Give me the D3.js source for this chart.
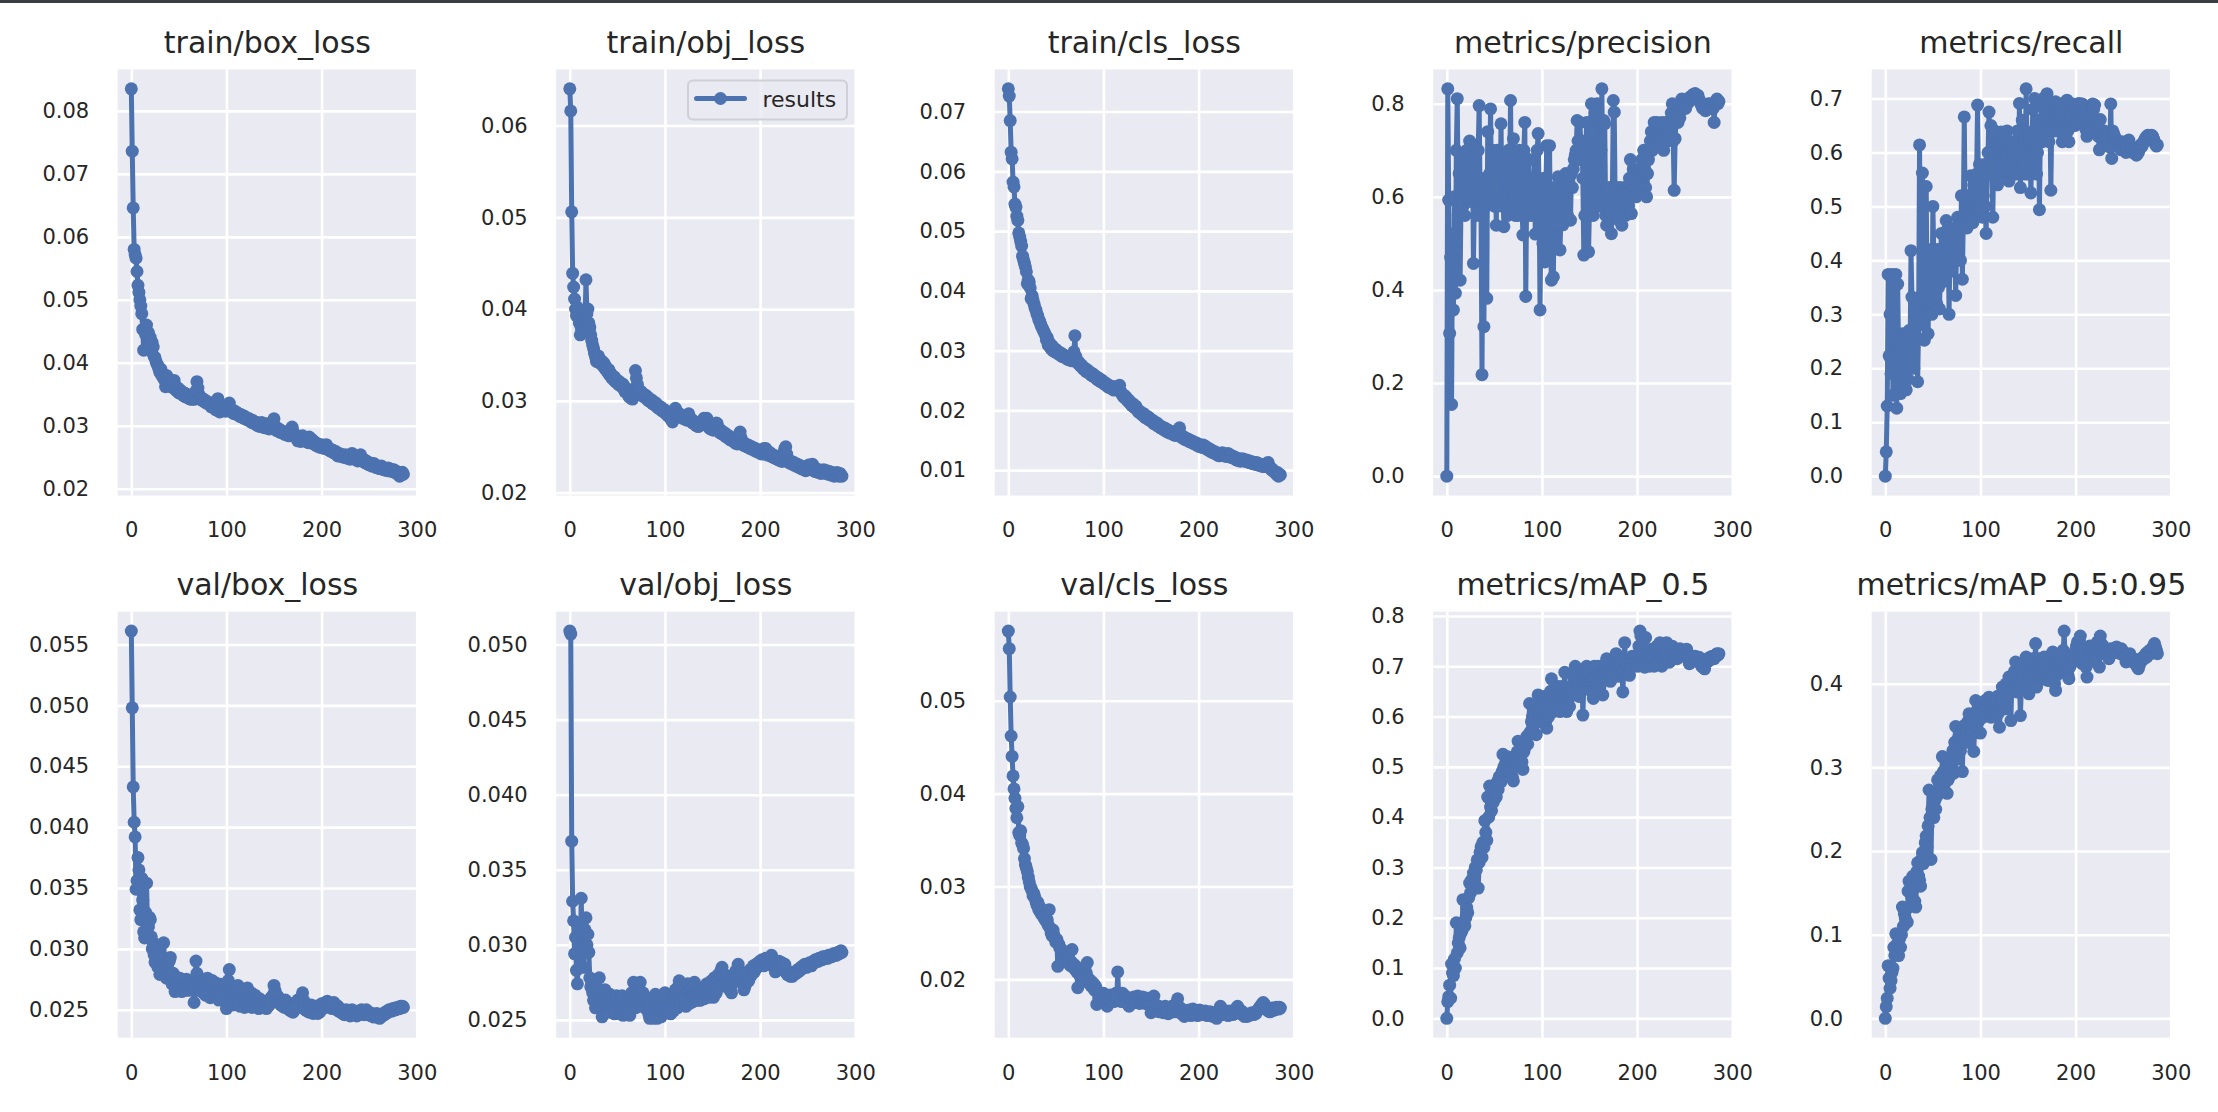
<!DOCTYPE html>
<html>
<head>
<meta charset="utf-8">
<script src="https://cdn.jsdelivr.net/npm/d3@7/dist/d3.min.js"></script>
<style>
  html, body { margin: 0; padding: 0; background: #fff; }
  svg { display: block; }
</style>
</head>
<body>
<script>
// ---------------- DATA ----------------
const titles = ["train/box_loss", "train/obj_loss", "train/cls_loss", "metrics/precision", "metrics/recall",
                "val/box_loss", "val/obj_loss", "val/cls_loss", "metrics/mAP_0.5", "metrics/mAP_0.5:0.95"];

const xTickValues = [0, 100, 200, 300];

const ticksTrainBox = [0.02, 0.03, 0.04, 0.05, 0.06, 0.07, 0.08];
const ticksTrainObj = [0.02, 0.03, 0.04, 0.05, 0.06];
const ticksTrainCls = [0.01, 0.02, 0.03, 0.04, 0.05, 0.06, 0.07];
const ticksPrecision = [0.0, 0.2, 0.4, 0.6, 0.8];
const ticksRecall = [0.0, 0.1, 0.2, 0.3, 0.4, 0.5, 0.6, 0.7];
const ticksValBox = [0.025, 0.030, 0.035, 0.040, 0.045, 0.050, 0.055];
const ticksValObj = [0.025, 0.030, 0.035, 0.040, 0.045, 0.050];
const ticksValCls = [0.02, 0.03, 0.04, 0.05];
const ticksMap50 = [0.0, 0.1, 0.2, 0.3, 0.4, 0.5, 0.6, 0.7, 0.8];
const ticksMap5095 = [0.0, 0.1, 0.2, 0.3, 0.4];

const trainBoxLoss = [
.0835,.0736,.0646,.0580,.0572,.0566,.0545,.0523,.0512,.0500,
.0490,.0478,.0453,.0420,.0450,.0445,.0460,.0432,.0448,.0425,
.0440,.0418,.0432,.0425,.0410,.0408,.0402,.0398,.0395,.0390,
.0385,.0390,.0380,.0383,.0375,.0378,.0362,.0380,.0370,.0375,
.0365,.0370,.0362,.0368,.0360,.0372,.0358,.0362,.0355,.0360,
.0352,.0357,.0355,.0350,.0353,.0348,.0352,.0346,.0350,.0345,
.0348,.0343,.0346,.0342,.0344,.0348,.0342,.0345,.0355,.0370,
.0360,.0350,.0345,.0342,.0344,.0340,.0342,.0338,.0340,.0336,
.0338,.0335,.0337,.0333,.0330,.0334,.0331,.0328,.0332,.0325,
.0335,.0343,.0330,.0322,.0326,.0330,.0327,.0325,.0329,.0323,
.0326,.0324,.0330,.0336,.0328,.0325,.0322,.0320,.0324,.0319,
.0322,.0318,.0320,.0317,.0315,.0318,.0314,.0316,.0312,.0315,
.0313,.0310,.0312,.0309,.0311,.0307,.0309,.0305,.0308,.0304,
.0306,.0302,.0305,.0300,.0303,.0299,.0302,.0305,.0298,.0301,
.0297,.0300,.0303,.0296,.0299,.0295,.0298,.0302,.0306,.0300,
.0311,.0296,.0293,.0297,.0292,.0295,.0290,.0293,.0289,.0291,
.0288,.0290,.0286,.0289,.0285,.0288,.0284,.0290,.0293,.0298,
.0292,.0287,.0283,.0285,.0280,.0276,.0279,.0282,.0275,.0278,
.0284,.0279,.0276,.0280,.0275,.0278,.0273,.0282,.0277,.0274,
.0278,.0272,.0275,.0270,.0273,.0268,.0271,.0269,.0266,.0268,
.0270,.0265,.0268,.0264,.0267,.0270,.0265,.0262,.0264,.0260,
.0262,.0259,.0261,.0257,.0256,.0259,.0255,.0252,.0256,.0253,
.0255,.0251,.0253,.0250,.0252,.0254,.0249,.0251,.0248,.0250,
.0247,.0252,.0256,.0250,.0248,.0251,.0246,.0249,.0244,.0247,
.0250,.0254,.0248,.0245,.0243,.0246,.0241,.0244,.0240,.0242,
.0238,.0241,.0239,.0236,.0238,.0240,.0236,.0234,.0237,.0233,
.0235,.0232,.0234,.0236,.0231,.0233,.0230,.0232,.0229,.0231,
.0233,.0230,.0228,.0231,.0229,.0227,.0230,.0226,.0228,.0225,
.0223,.0226,.0220,.0224,.0222,.0226,.0223];

const trainObjLoss = [
.0640,.0616,.0506,.0439,.0424,.0411,.0400,.0393,.0402,.0395,
.0385,.0372,.0380,.0390,.0384,.0378,.0388,.0432,.0395,.0400,
.0385,.0380,.0372,.0366,.0361,.0357,.0352,.0348,.0343,.0346,
.0349,.0342,.0345,.0340,.0343,.0338,.0341,.0335,.0337,.0333,
.0331,.0334,.0328,.0330,.0325,.0327,.0323,.0326,.0321,.0323,
.0320,.0318,.0321,.0317,.0319,.0315,.0318,.0313,.0310,.0314,
.0311,.0308,.0305,.0309,.0303,.0307,.0302,.0306,.0310,.0333,
.0325,.0318,.0312,.0309,.0311,.0307,.0309,.0305,.0307,.0304,
.0306,.0302,.0304,.0300,.0302,.0299,.0301,.0297,.0299,.0296,
.0298,.0294,.0296,.0292,.0294,.0291,.0293,.0289,.0291,.0288,
.0290,.0286,.0288,.0284,.0286,.0282,.0285,.0279,.0277,.0283,
.0288,.0292,.0286,.0284,.0287,.0283,.0285,.0282,.0284,.0281,
.0283,.0280,.0282,.0279,.0284,.0286,.0281,.0278,.0280,.0276,
.0278,.0275,.0277,.0273,.0276,.0272,.0275,.0277,.0274,.0276,
.0278,.0281,.0277,.0274,.0281,.0276,.0272,.0270,.0273,.0269,
.0271,.0268,.0272,.0274,.0276,.0275,.0270,.0267,.0265,.0268,
.0264,.0266,.0263,.0265,.0261,.0263,.0260,.0262,.0258,.0260,
.0257,.0259,.0256,.0258,.0254,.0256,.0253,.0258,.0262,.0266,
.0260,.0255,.0252,.0254,.0251,.0253,.0250,.0252,.0249,.0251,
.0248,.0250,.0247,.0249,.0246,.0248,.0245,.0247,.0244,.0246,
.0243,.0245,.0242,.0246,.0248,.0244,.0248,.0245,.0241,.0243,
.0244,.0240,.0242,.0239,.0241,.0238,.0240,.0237,.0239,.0236,
.0238,.0235,.0237,.0234,.0240,.0244,.0248,.0250,.0242,.0236,
.0233,.0235,.0232,.0234,.0231,.0233,.0230,.0232,.0229,.0231,
.0228,.0230,.0227,.0229,.0226,.0228,.0225,.0227,.0224,.0226,
.0228,.0230,.0227,.0225,.0229,.0231,.0228,.0225,.0223,.0226,
.0224,.0222,.0225,.0223,.0221,.0224,.0222,.0225,.0223,.0221,
.0224,.0222,.0220,.0223,.0221,.0219,.0222,.0220,.0218,.0221,
.0219,.0222,.0220,.0218,.0221,.0219,.0218];

const trainClsLoss = [
.0738,.0726,.0685,.0632,.0621,.0582,.0574,.0545,.0540,.0525,
.0518,.0497,.0490,.0483,.0475,.0458,.0452,.0446,.0440,.0432,
.0412,.0418,.0415,.0405,.0387,.0392,.0385,.0378,.0372,.0368,
.0362,.0358,.0352,.0349,.0344,.0340,.0337,.0333,.0330,.0326,
.0318,.0322,.0309,.0314,.0306,.0303,.0308,.0300,.0304,.0298,
.0302,.0296,.0299,.0294,.0297,.0292,.0295,.0290,.0293,.0289,
.0291,.0287,.0289,.0285,.0288,.0284,.0286,.0283,.0288,.0298,
.0325,.0290,.0283,.0279,.0281,.0277,.0274,.0276,.0272,.0269,
.0271,.0267,.0265,.0268,.0264,.0262,.0264,.0260,.0258,.0261,
.0257,.0255,.0257,.0253,.0251,.0254,.0250,.0248,.0251,.0247,
.0245,.0247,.0243,.0245,.0241,.0239,.0242,.0238,.0240,.0236,
.0237,.0234,.0236,.0240,.0238,.0235,.0239,.0242,.0232,.0228,
.0226,.0223,.0225,.0220,.0222,.0218,.0215,.0217,.0212,.0210,
.0208,.0211,.0206,.0204,.0207,.0202,.0200,.0197,.0199,.0196,
.0194,.0192,.0195,.0190,.0188,.0191,.0187,.0185,.0188,.0184,
.0182,.0184,.0180,.0178,.0181,.0177,.0175,.0178,.0174,.0172,
.0171,.0173,.0169,.0171,.0167,.0170,.0166,.0164,.0167,.0163,
.0162,.0165,.0161,.0163,.0159,.0162,.0158,.0161,.0164,.0168,
.0171,.0160,.0155,.0157,.0153,.0155,.0151,.0153,.0150,.0152,
.0148,.0150,.0147,.0149,.0145,.0147,.0144,.0146,.0142,.0144,
.0140,.0143,.0139,.0141,.0138,.0142,.0140,.0137,.0139,.0135,
.0134,.0136,.0132,.0134,.0130,.0132,.0129,.0131,.0127,.0129,
.0125,.0128,.0124,.0127,.0125,.0129,.0126,.0124,.0127,.0123,
.0125,.0128,.0124,.0122,.0125,.0121,.0123,.0120,.0122,.0118,
.0117,.0120,.0116,.0118,.0115,.0117,.0119,.0116,.0118,.0115,
.0117,.0114,.0116,.0113,.0115,.0112,.0114,.0111,.0113,.0110,
.0111,.0113,.0109,.0111,.0108,.0110,.0107,.0109,.0106,.0108,
.0106,.0109,.0111,.0113,.0108,.0104,.0102,.0100,.0101,.0098,
.0097,.0095,.0093,.0096,.0090,.0093,.0092];

const precision = [
0.000,0.832,0.593,0.307,0.470,0.154,0.520,0.357,0.600,0.393,
0.700,0.811,0.560,0.650,0.421,0.600,0.680,0.580,0.640,0.560,
0.620,0.700,0.600,0.660,0.720,0.590,0.640,0.710,0.457,0.600,
0.680,0.560,0.640,0.700,0.796,0.600,0.560,0.218,0.620,0.321,
0.640,0.580,0.382,0.740,0.620,0.650,0.789,0.600,0.700,0.640,
0.580,0.660,0.539,0.700,0.620,0.680,0.600,0.757,0.580,0.640,
0.536,0.680,0.600,0.640,0.560,0.700,0.620,0.807,0.580,0.660,
0.725,0.600,0.560,0.680,0.620,0.560,0.700,0.600,0.640,0.580,
0.518,0.700,0.760,0.386,0.620,0.560,0.680,0.600,0.640,0.560,
0.620,0.580,0.680,0.520,0.640,0.700,0.736,0.620,0.357,0.560,
0.614,0.500,0.640,0.460,0.600,0.710,0.520,0.600,0.710,0.480,
0.421,0.560,0.428,0.620,0.500,0.580,0.540,0.643,0.600,0.486,
0.560,0.600,0.540,0.620,0.580,0.650,0.600,0.560,0.640,0.620,
0.550,0.650,0.620,0.660,0.680,0.690,0.700,0.764,0.720,0.680,
0.760,0.700,0.720,0.640,0.475,0.560,0.700,0.760,0.600,0.482,
0.580,0.760,0.800,0.740,0.560,0.620,0.780,0.700,0.800,0.640,
0.580,0.760,0.700,0.832,0.600,0.764,0.757,0.560,0.539,0.600,
0.560,0.620,0.580,0.521,0.600,0.807,0.782,0.580,0.620,0.560,
0.600,0.550,0.620,0.580,0.539,0.600,0.570,0.620,0.560,0.600,
0.620,0.580,0.640,0.680,0.564,0.620,0.660,0.640,0.620,0.600,
0.629,0.650,0.620,0.660,0.640,0.680,0.650,0.700,0.660,0.620,
0.600,0.650,0.680,0.700,0.720,0.740,0.700,0.740,0.760,0.757,
0.740,0.760,0.730,0.750,0.720,0.740,0.760,0.720,0.700,0.740,
0.760,0.740,0.720,0.750,0.730,0.760,0.780,0.800,0.720,0.614,
0.725,0.760,0.780,0.760,0.790,0.770,0.800,0.810,0.790,0.800,
0.800,0.790,0.805,0.800,0.810,0.805,0.815,0.810,0.815,0.820,
0.818,0.822,0.820,0.815,0.818,0.810,0.805,0.800,0.795,0.790,
0.795,0.790,0.785,0.790,0.795,0.800,0.795,0.790,0.800,0.795,
0.790,0.760,0.800,0.805,0.810,0.800,0.805];

const recall = [
0.000,0.045,0.130,0.374,0.223,0.300,0.190,0.374,0.150,0.250,
0.200,0.374,0.126,0.356,0.220,0.170,0.153,0.240,0.264,0.200,
0.230,0.260,0.160,0.250,0.180,0.270,0.220,0.418,0.332,0.240,
0.200,0.300,0.260,0.330,0.175,0.280,0.614,0.330,0.300,0.562,
0.340,0.252,0.400,0.537,0.300,0.264,0.380,0.320,0.420,0.300,
0.500,0.412,0.340,0.380,0.320,0.420,0.350,0.310,0.400,0.450,
0.360,0.420,0.380,0.440,0.474,0.400,0.460,0.300,0.420,0.380,
0.440,0.400,0.460,0.420,0.335,0.440,0.480,0.420,0.460,0.400,
0.520,0.365,0.480,0.666,0.470,0.500,0.460,0.520,0.480,0.500,
0.557,0.500,0.470,0.540,0.500,0.480,0.560,0.688,0.520,0.578,
0.500,0.540,0.480,0.520,0.560,0.500,0.450,0.580,0.600,0.675,
0.600,0.650,0.560,0.480,0.600,0.640,0.580,0.620,0.540,0.600,
0.620,0.580,0.638,0.600,0.560,0.620,0.580,0.600,0.640,0.560,
0.547,0.600,0.620,0.580,0.600,0.560,0.620,0.580,0.600,0.640,
0.560,0.691,0.535,0.600,0.660,0.580,0.620,0.560,0.718,0.617,
0.600,0.560,0.620,0.525,0.600,0.680,0.640,0.700,0.620,0.560,
0.600,0.660,0.494,0.640,0.690,0.620,0.700,0.660,0.640,0.690,
0.709,0.660,0.620,0.680,0.530,0.660,0.690,0.640,0.680,0.694,
0.660,0.640,0.680,0.660,0.690,0.640,0.620,0.670,0.650,0.680,
0.660,0.697,0.640,0.620,0.660,0.680,0.660,0.690,0.670,0.650,
0.680,0.660,0.690,0.670,0.691,0.680,0.660,0.690,0.670,0.650,
0.660,0.642,0.630,0.650,0.640,0.660,0.680,0.670,0.690,0.680,
0.688,0.660,0.640,0.650,0.630,0.605,0.661,0.640,0.630,0.620,
0.640,0.625,0.615,0.630,0.620,0.635,0.610,0.690,0.589,0.640,
0.635,0.630,0.625,0.620,0.615,0.610,0.620,0.615,0.605,0.620,
0.615,0.610,0.605,0.600,0.610,0.620,0.623,0.615,0.610,0.605,
0.600,0.605,0.600,0.598,0.595,0.598,0.600,0.605,0.610,0.615,
0.612,0.618,0.620,0.625,0.628,0.630,0.632,0.628,0.625,0.630,
0.632,0.630,0.625,0.620,0.615,0.612,0.614];

const valBoxLoss = [
.0561,.0498,.0433,.0404,.0392,.0349,.0356,.0375,.0365,.0332,
.0324,.0358,.0340,.0314,.0309,.0330,.0354,.0320,.0318,.0326,
.0324,.0310,.0300,.0305,.0295,.0289,.0302,.0295,.0285,.0300,
.0279,.0293,.0288,.0282,.0305,.0290,.0283,.0276,.0285,.0280,
.0290,.0293,.0278,.0271,.0280,.0274,.0265,.0277,.0270,.0275,
.0268,.0276,.0270,.0265,.0274,.0268,.0272,.0266,.0275,.0269,
.0273,.0266,.0271,.0268,.0274,.0270,.0256,.0268,.0290,.0280,
.0274,.0268,.0276,.0270,.0265,.0272,.0268,.0274,.0262,.0270,
.0276,.0266,.0272,.0260,.0268,.0274,.0262,.0270,.0265,.0272,
.0262,.0268,.0258,.0266,.0271,.0260,.0267,.0263,.0270,.0258,
.0251,.0266,.0274,.0283,.0262,.0258,.0266,.0254,.0262,.0268,
.0256,.0264,.0270,.0258,.0253,.0262,.0267,.0255,.0260,.0252,
.0264,.0258,.0268,.0253,.0261,.0256,.0264,.0252,.0259,.0255,
.0262,.0253,.0258,.0256,.0251,.0259,.0254,.0257,.0252,.0256,
.0253,.0255,.0251,.0256,.0253,.0258,.0255,.0260,.0257,.0262,
.0270,.0266,.0263,.0258,.0261,.0256,.0259,.0254,.0257,.0253,
.0256,.0252,.0258,.0254,.0256,.0252,.0250,.0255,.0249,.0252,
.0248,.0254,.0251,.0256,.0253,.0258,.0255,.0252,.0257,.0260,
.0264,.0258,.0254,.0250,.0253,.0249,.0252,.0248,.0251,.0254,
.0250,.0247,.0252,.0249,.0253,.0250,.0247,.0251,.0248,.0253,
.0255,.0251,.0254,.0252,.0256,.0253,.0257,.0254,.0256,.0252,
.0255,.0251,.0253,.0256,.0252,.0254,.0250,.0253,.0249,.0251,
.0248,.0250,.0247,.0249,.0246,.0248,.0250,.0247,.0249,.0246,
.0245,.0248,.0250,.0247,.0249,.0246,.0248,.0245,.0247,.0249,
.0246,.0248,.0250,.0247,.0249,.0246,.0248,.0250,.0247,.0246,
.0248,.0246,.0245,.0247,.0246,.0244,.0246,.0245,.0247,.0244,
.0245,.0243,.0244,.0246,.0245,.0247,.0246,.0248,.0247,.0249,
.0248,.0250,.0249,.0250,.0249,.0251,.0250,.0251,.0250,.0252,
.0251,.0252,.0251,.0253,.0252,.0253,.0252];

const valObjLoss = [
.0509,.0507,.0369,.0329,.0316,.0294,.0305,.0283,.0274,.0300,
.0310,.0290,.0331,.0300,.0285,.0295,.0310,.0318,.0300,.0307,
.0295,.0278,.0272,.0275,.0268,.0263,.0270,.0258,.0266,.0261,
.0268,.0278,.0262,.0257,.0252,.0265,.0259,.0270,.0262,.0256,
.0264,.0258,.0267,.0255,.0262,.0257,.0265,.0254,.0260,.0266,
.0257,.0263,.0254,.0261,.0256,.0266,.0253,.0259,.0264,.0255,
.0262,.0257,.0265,.0253,.0260,.0268,.0262,.0275,.0266,.0258,
.0264,.0270,.0262,.0268,.0275,.0266,.0260,.0268,.0263,.0258,
.0265,.0257,.0262,.0254,.0251,.0259,.0252,.0256,.0251,.0261,
.0267,.0254,.0251,.0258,.0262,.0256,.0252,.0259,.0255,.0260,
.0268,.0257,.0262,.0255,.0265,.0259,.0254,.0266,.0260,.0256,
.0263,.0270,.0262,.0258,.0272,.0276,.0265,.0260,.0268,.0262,
.0270,.0264,.0259,.0268,.0274,.0265,.0261,.0270,.0266,.0262,
.0268,.0275,.0264,.0269,.0263,.0271,.0266,.0263,.0270,.0266,
.0268,.0264,.0271,.0267,.0274,.0269,.0265,.0272,.0268,.0276,
.0270,.0265,.0278,.0272,.0268,.0275,.0280,.0272,.0278,.0283,
.0285,.0278,.0274,.0280,.0276,.0272,.0279,.0275,.0270,.0277,
.0268,.0274,.0280,.0276,.0282,.0278,.0284,.0287,.0280,.0276,
.0282,.0278,.0274,.0270,.0272,.0278,.0275,.0280,.0276,.0283,
.0279,.0284,.0281,.0286,.0282,.0284,.0287,.0285,.0288,.0286,
.0289,.0287,.0290,.0288,.0286,.0289,.0291,.0288,.0290,.0287,
.0291,.0289,.0293,.0290,.0288,.0285,.0282,.0286,.0283,.0287,
.0289,.0286,.0284,.0288,.0285,.0283,.0287,.0284,.0281,.0280,
.0282,.0280,.0279,.0281,.0279,.0280,.0281,.0282,.0281,.0283,
.0282,.0284,.0283,.0285,.0284,.0286,.0285,.0287,.0286,.0285,
.0287,.0286,.0288,.0287,.0286,.0288,.0289,.0288,.0290,.0289,
.0290,.0289,.0291,.0290,.0291,.0290,.0292,.0291,.0292,.0291,
.0292,.0291,.0293,.0292,.0293,.0292,.0293,.0294,.0293,.0294,
.0293,.0294,.0295,.0294,.0295,.0296,.0295];

const valClsLoss = [
.0575,.0556,.0504,.0462,.0440,.0419,.0405,.0395,.0384,.0374,
.0386,.0358,.0355,.0360,.0347,.0345,.0341,.0330,.0323,.0320,
.0316,.0310,.0305,.0300,.0298,.0295,.0290,.0292,.0288,.0284,
.0280,.0283,.0275,.0278,.0272,.0270,.0274,.0268,.0265,.0267,
.0262,.0264,.0258,.0275,.0255,.0250,.0247,.0253,.0248,.0244,
.0240,.0243,.0214,.0238,.0234,.0233,.0229,.0231,.0226,.0228,
.0225,.0221,.0223,.0218,.0220,.0215,.0219,.0232,.0213,.0216,
.0211,.0214,.0208,.0191,.0206,.0210,.0203,.0207,.0200,.0204,
.0198,.0202,.0207,.0218,.0201,.0196,.0199,.0193,.0197,.0191,
.0195,.0188,.0192,.0173,.0186,.0180,.0184,.0178,.0182,.0176,
.0185,.0179,.0183,.0176,.0171,.0180,.0177,.0183,.0178,.0181,
.0182,.0176,.0180,.0185,.0179,.0208,.0183,.0178,.0182,.0176,
.0185,.0180,.0177,.0182,.0175,.0180,.0176,.0171,.0179,.0176,
.0180,.0177,.0181,.0175,.0179,.0176,.0182,.0178,.0174,.0179,
.0176,.0181,.0175,.0178,.0174,.0180,.0176,.0173,.0178,.0175,
.0164,.0177,.0173,.0182,.0170,.0166,.0172,.0168,.0171,.0165,
.0170,.0166,.0169,.0164,.0168,.0171,.0165,.0169,.0163,.0167,
.0164,.0168,.0171,.0166,.0169,.0165,.0172,.0175,.0179,.0170,
.0166,.0169,.0163,.0167,.0164,.0160,.0165,.0162,.0166,.0163,
.0167,.0164,.0161,.0165,.0168,.0163,.0166,.0162,.0165,.0161,
.0164,.0167,.0163,.0166,.0162,.0165,.0163,.0166,.0164,.0161,
.0164,.0162,.0165,.0161,.0163,.0160,.0164,.0161,.0163,.0158,
.0162,.0165,.0168,.0171,.0167,.0164,.0162,.0165,.0163,.0166,
.0163,.0161,.0164,.0166,.0163,.0165,.0162,.0166,.0164,.0167,
.0169,.0171,.0168,.0165,.0163,.0166,.0164,.0162,.0160,.0163,
.0161,.0160,.0162,.0161,.0163,.0162,.0164,.0163,.0162,.0164,
.0163,.0165,.0166,.0168,.0169,.0171,.0172,.0174,.0175,.0173,
.0172,.0170,.0168,.0166,.0167,.0165,.0168,.0166,.0169,.0167,
.0167,.0168,.0170,.0169,.0168,.0170,.0169];

const mAP50 = [
0.000,0.033,0.043,0.066,0.040,0.108,0.090,0.085,0.118,0.100,
0.190,0.130,0.150,0.160,0.140,0.170,0.175,0.236,0.190,0.184,
0.200,0.220,0.210,0.240,0.269,0.250,0.275,0.260,0.289,0.280,
0.300,0.295,0.315,0.259,0.310,0.330,0.341,0.320,0.350,0.340,
0.393,0.370,0.354,0.440,0.400,0.462,0.420,0.413,0.440,0.430,
0.450,0.460,0.440,0.470,0.455,0.480,0.480,0.470,0.490,0.525,
0.500,0.498,0.510,0.490,0.520,0.511,0.500,0.490,0.510,0.480,
0.472,0.500,0.520,0.510,0.530,0.551,0.530,0.520,0.540,0.510,
0.495,0.530,0.538,0.550,0.560,0.545,0.564,0.626,0.570,0.590,
0.600,0.580,0.620,0.600,0.564,0.610,0.643,0.600,0.590,0.630,
0.620,0.600,0.640,0.610,0.590,0.577,0.620,0.600,0.640,0.650,
0.675,0.640,0.610,0.630,0.650,0.620,0.640,0.660,0.630,0.610,
0.640,0.660,0.630,0.650,0.688,0.640,0.610,0.630,0.650,0.620,
0.640,0.660,0.650,0.680,0.670,0.700,0.680,0.650,0.660,0.640,
0.670,0.650,0.680,0.603,0.660,0.690,0.670,0.700,0.680,0.660,
0.690,0.670,0.650,0.680,0.636,0.700,0.680,0.690,0.660,0.700,
0.680,0.660,0.700,0.690,0.643,0.680,0.700,0.690,0.715,0.680,
0.700,0.690,0.670,0.710,0.690,0.700,0.680,0.710,0.725,0.690,
0.700,0.680,0.710,0.690,0.700,0.649,0.690,0.747,0.700,0.710,
0.690,0.700,0.682,0.710,0.700,0.720,0.710,0.700,0.720,0.710,
0.720,0.700,0.740,0.770,0.760,0.740,0.720,0.700,0.698,0.757,
0.730,0.710,0.720,0.700,0.730,0.734,0.710,0.720,0.700,0.730,
0.720,0.740,0.710,0.730,0.747,0.720,0.700,0.730,0.740,0.720,
0.730,0.747,0.720,0.710,0.708,0.730,0.720,0.740,0.725,0.730,
0.720,0.730,0.715,0.725,0.720,0.735,0.720,0.730,0.725,0.720,
0.730,0.725,0.734,0.720,0.715,0.705,0.710,0.715,0.710,0.720,
0.715,0.720,0.710,0.715,0.712,0.718,0.710,0.705,0.700,0.698,
0.700,0.695,0.705,0.710,0.715,0.710,0.712,0.718,0.715,0.720,
0.718,0.715,0.720,0.722,0.725,0.722,0.725];

const mAP5095 = [
0.000,0.014,0.024,0.063,0.048,0.036,0.045,0.055,0.060,0.085,
0.075,0.101,0.080,0.090,0.075,0.095,0.085,0.100,0.133,0.110,
0.125,0.120,0.130,0.115,0.152,0.164,0.150,0.160,0.145,0.170,
0.155,0.140,0.133,0.175,0.186,0.170,0.165,0.158,0.190,0.198,
0.185,0.200,0.210,0.218,0.205,0.230,0.273,0.240,0.190,0.250,
0.253,0.240,0.260,0.250,0.265,0.285,0.270,0.280,0.290,0.275,
0.313,0.295,0.280,0.290,0.300,0.269,0.285,0.300,0.290,0.310,
0.300,0.320,0.293,0.330,0.349,0.320,0.310,0.335,0.340,0.320,
0.330,0.295,0.340,0.350,0.335,0.345,0.330,0.355,0.364,0.350,
0.345,0.360,0.340,0.319,0.350,0.380,0.365,0.370,0.355,0.360,
0.341,0.365,0.375,0.360,0.372,0.380,0.365,0.375,0.370,0.384,
0.370,0.360,0.375,0.365,0.380,0.370,0.360,0.375,0.385,0.365,
0.348,0.370,0.385,0.396,0.380,0.390,0.370,0.400,0.385,0.395,
0.408,0.390,0.356,0.400,0.410,0.395,0.415,0.426,0.405,0.390,
0.410,0.400,0.362,0.395,0.420,0.410,0.425,0.415,0.432,0.420,
0.405,0.388,0.410,0.420,0.400,0.430,0.415,0.425,0.448,0.396,
0.420,0.410,0.430,0.415,0.425,0.410,0.420,0.432,0.415,0.405,
0.420,0.404,0.425,0.430,0.415,0.420,0.438,0.410,0.400,0.392,
0.410,0.425,0.415,0.430,0.420,0.435,0.425,0.440,0.463,0.430,
0.420,0.415,0.410,0.406,0.420,0.430,0.425,0.435,0.428,0.432,
0.440,0.445,0.450,0.448,0.452,0.457,0.445,0.424,0.430,0.440,
0.435,0.420,0.408,0.425,0.440,0.445,0.435,0.440,0.445,0.438,
0.440,0.445,0.432,0.450,0.440,0.420,0.457,0.448,0.440,0.445,
0.438,0.442,0.435,0.440,0.436,0.430,0.438,0.442,0.436,0.440,
0.438,0.442,0.440,0.444,0.438,0.442,0.440,0.436,0.442,0.440,
0.438,0.434,0.432,0.426,0.430,0.434,0.432,0.436,0.430,0.428,
0.426,0.430,0.428,0.425,0.422,0.420,0.418,0.422,0.426,0.430,
0.428,0.432,0.430,0.434,0.436,0.432,0.438,0.435,0.440,0.436,
0.440,0.442,0.445,0.448,0.444,0.440,0.436];

const seriesValues = [trainBoxLoss, trainObjLoss, trainClsLoss, precision, recall,
                      valBoxLoss, valObjLoss, valClsLoss, mAP50, mAP5095];
const seriesTicks = [ticksTrainBox, ticksTrainObj, ticksTrainCls, ticksPrecision, ticksRecall,
                     ticksValBox, ticksValObj, ticksValCls, ticksMap50, ticksMap5095];
const tickFormats = [".2f", ".2f", ".2f", ".1f", ".1f", ".3f", ".3f", ".2f", ".1f", ".1f"];
const legendLabel = "results";

// ---------------- DRAWING ----------------
const W = 2218, H = 1112;
const COLOR = "#4C72B0";
const FONT = "DejaVu Sans, Liberation Sans, sans-serif";
const TEXT = "#262626";
const LINE_W = 5, MARK_R = 6.5;

const colLeft0 = 117.7, colStep = 438.5, plotW = 299.3, plotH = 426;
const rowTops = [69.5, 611.7];

const svg = d3.select("body").append("svg").attr("width", W).attr("height", H);
svg.append("rect").attr("width", W).attr("height", H).attr("fill", "#ffffff");
svg.append("rect").attr("width", W).attr("height", 3).attr("fill", "#3b3d42");

function padExtent(ext) {
  const r = ext[1] - ext[0];
  return [ext[0] - 0.05 * r, ext[1] + 0.05 * r];
}

seriesValues.forEach((vals, i) => {
  const col = i % 5, row = Math.floor(i / 5);
  const x0 = colLeft0 + col * colStep, y0 = rowTops[row];
  const epochs = d3.range(vals.length);
  const data = epochs.map(e => ({ e, v: vals[e] }));

  const xs = d3.scaleLinear().domain(padExtent(d3.extent(epochs))).range([0, plotW]);
  const ys = d3.scaleLinear().domain(padExtent(d3.extent(vals))).range([plotH, 0]);
  const yd = ys.domain(), xd = xs.domain();
  const eps = (yd[1] - yd[0]) * 1e-6;

  const g = svg.append("g").attr("transform", `translate(${x0},${y0})`);
  g.append("rect").attr("width", plotW).attr("height", plotH).attr("fill", "#EAEAF2");

  const yAxis = d3.axisLeft(ys)
    .tickValues(seriesTicks[i].filter(t => t >= yd[0] - eps && t <= yd[1] + eps))
    .tickFormat(d3.format(tickFormats[i]))
    .tickSize(-plotW).tickPadding(28.5);
  const ya = g.append("g").call(yAxis);
  const xAxis = d3.axisBottom(xs)
    .tickValues(xTickValues.filter(t => t >= xd[0] && t <= xd[1]))
    .tickFormat(d3.format("d"))
    .tickSize(-plotH).tickPadding(27);
  const xa = g.append("g").attr("transform", `translate(0,${plotH})`).call(xAxis);

  [ya, xa].forEach(a => {
    a.select(".domain").remove();
    a.selectAll(".tick line").attr("stroke", "#ffffff").attr("stroke-width", 2.6);
    a.selectAll(".tick text").attr("fill", TEXT).style("font-family", FONT).style("font-size", "21px");
  });

  const line = d3.line().x(d => xs(d.e)).y(d => ys(d.v));
  g.append("path").datum(data).attr("d", line)
    .attr("fill", "none").attr("stroke", COLOR).attr("stroke-width", LINE_W)
    .attr("stroke-linejoin", "round").attr("stroke-linecap", "round");
  g.append("g").selectAll("circle").data(data).join("circle")
    .attr("cx", d => xs(d.e)).attr("cy", d => ys(d.v)).attr("r", MARK_R).attr("fill", COLOR);

  svg.append("text").attr("x", x0 + plotW / 2).attr("y", y0 - 16.5)
    .attr("text-anchor", "middle").attr("fill", TEXT)
    .style("font-family", FONT).style("font-size", "30px").text(titles[i]);

  if (i === 1) {
    const lg = g.append("g").attr("transform", `translate(${plotW - 167.5},11)`);
    lg.append("rect").attr("width", 159).attr("height", 39).attr("rx", 5)
      .attr("fill", "#EAEAF2").attr("fill-opacity", 0.8)
      .attr("stroke", "#cfcfd6").attr("stroke-width", 2);
    lg.append("line").attr("x1", 8.5).attr("x2", 56.5).attr("y1", 18).attr("y2", 18)
      .attr("stroke", COLOR).attr("stroke-width", LINE_W).attr("stroke-linecap", "round");
    lg.append("circle").attr("cx", 32.5).attr("cy", 18).attr("r", MARK_R).attr("fill", COLOR);
    lg.append("text").attr("x", 74.5).attr("y", 26).attr("fill", TEXT)
      .style("font-family", FONT).style("font-size", "22px").text(legendLabel);
  }
});
</script>
</body>
</html>
